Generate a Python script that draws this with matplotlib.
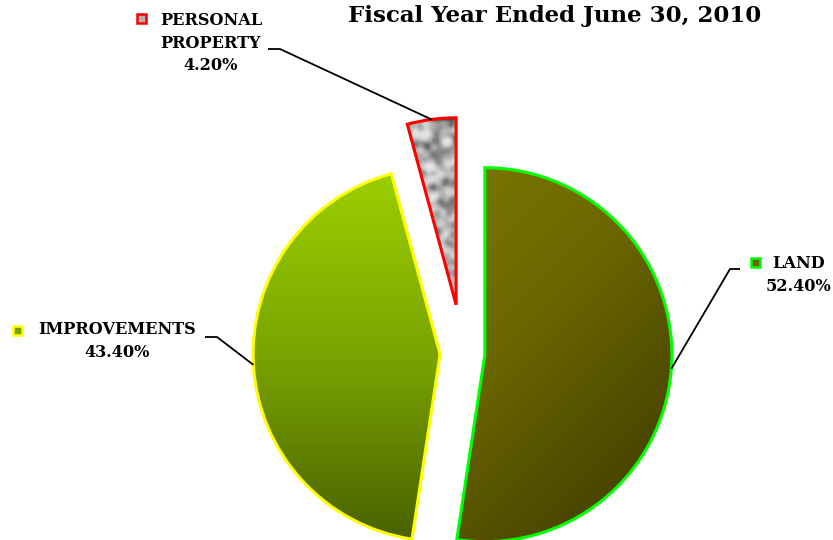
import numpy as np
import matplotlib.pyplot as plt
from matplotlib.colors import LinearSegmentedColormap
from matplotlib.patches import Rectangle

# data
labels = ['LAND', 'IMPROVEMENTS', 'PERSONAL\nPROPERTY']
shares = [52.4, 43.4, 4.2]
explode = [0.12, 0.12, 0.26]   # fraction of radius
edge_colors = ['#00ff00', '#ffff00', '#ff0000']
title = 'Fiscal Year Ended June 30, 2010'

W, H = 833, 540
R = 187
CENTER = (462.5, 187)

fig = plt.figure(figsize=(W / 100, H / 100), dpi=100)
ax = fig.add_axes([0, 0, 1, 1])

wedges, _ = ax.pie(shares, explode=[e * R for e in explode], startangle=90,
                   counterclock=False, center=CENTER, radius=R, frame=True,
                   wedgeprops=dict(linewidth=2.2, facecolor='none'))
ax.set_xlim(0, W)
ax.set_ylim(0, H)
ax.set_aspect('equal')
ax.axis('off')

land_cmap = LinearSegmentedColormap.from_list('land', ['#827f00', '#6c6800', '#3c3700'])
impr_cmap = LinearSegmentedColormap.from_list('impr', ['#9dd000', '#79a400', '#4a6200'])
rock_cmap = LinearSegmentedColormap.from_list('rock', ['#3a3a3a', '#767676', '#a8a8a8', '#cfcfcf', '#e6e6e6'])

def texture(n=170, seed=3):
    # granite-like fill for the small slice
    rng = np.random.default_rng(seed)
    z = rng.random((n, n))
    k = np.ones(3) / 3
    for _ in range(2):
        z = np.apply_along_axis(lambda r: np.convolve(r, k, mode='same'), 0, z)
        z = np.apply_along_axis(lambda r: np.convolve(r, k, mode='same'), 1, z)
    z = (z - z.mean()) / z.std()
    return np.clip(0.55 + 0.2 * z, 0, 1)

for i, w in enumerate(wedges):
    w.set_edgecolor(edge_colors[i])
    w.set_zorder(3)
    cx, cy = w.center
    ext = [cx - R, cx + R, cy - R, cy + R]
    yy, xx = np.mgrid[1:0:200j, 0:1:200j]
    if i == 0:
        img = (xx + (1 - yy)) / 2
        im = ax.imshow(img, cmap=land_cmap, extent=ext, origin='upper', zorder=2)
    elif i == 1:
        img = 1 - yy
        im = ax.imshow(img, cmap=impr_cmap, extent=ext, origin='upper', zorder=2,
                       vmin=0.0, vmax=1.0)
    else:
        im = ax.imshow(texture(), cmap=rock_cmap, extent=ext, origin='upper', zorder=2,
                       interpolation='bicubic', vmin=0, vmax=1)
    im.set_clip_path(w)

# labels: text centre, elbow points, legend key position (pixel layout)
label_pos = [(799, 275), (117, 341), (211, 43)]
elbows = [((740, 269), (730, 269)), ((205, 337), (217, 337)), ((268, 49), (280, 49))]
key_pos = [(756, 262), (18, 330), (142, 18)]
key_colors = ['#6a6400', '#7a9f00', '#b0b0b0']

font = dict(family=['DejaVu Serif'], weight='bold')
for i, w in enumerate(wedges):
    txt = f'{labels[i]}\n{shares[i]:.2f}%'
    lx, ly = label_pos[i]
    ax.text(lx, H - ly, txt, ha='center', va='center', fontsize=11.6,
            linespacing=1.45, zorder=5, **font)
    mid = np.deg2rad((w.theta1 + w.theta2) / 2)
    cx, cy = w.center
    ex, ey = cx + R * np.cos(mid), cy + R * np.sin(mid)
    (ax0, ay0), (ax1, ay1) = elbows[i]
    ax.plot([ax0, ax1, ex], [H - ay0, H - ay1, ey], color='black', lw=1.3, zorder=4,
            solid_capstyle='butt')
    kx, ky = key_pos[i]
    ax.add_patch(Rectangle((kx - 4.5, H - ky - 4.5), 9, 9, facecolor=key_colors[i],
                           edgecolor=edge_colors[i], lw=1.8, zorder=5))

ax.text(555, H - 16, title, ha='center', va='center', fontsize=16.5, zorder=5, **font)

fig.savefig('out.png', dpi=100)
